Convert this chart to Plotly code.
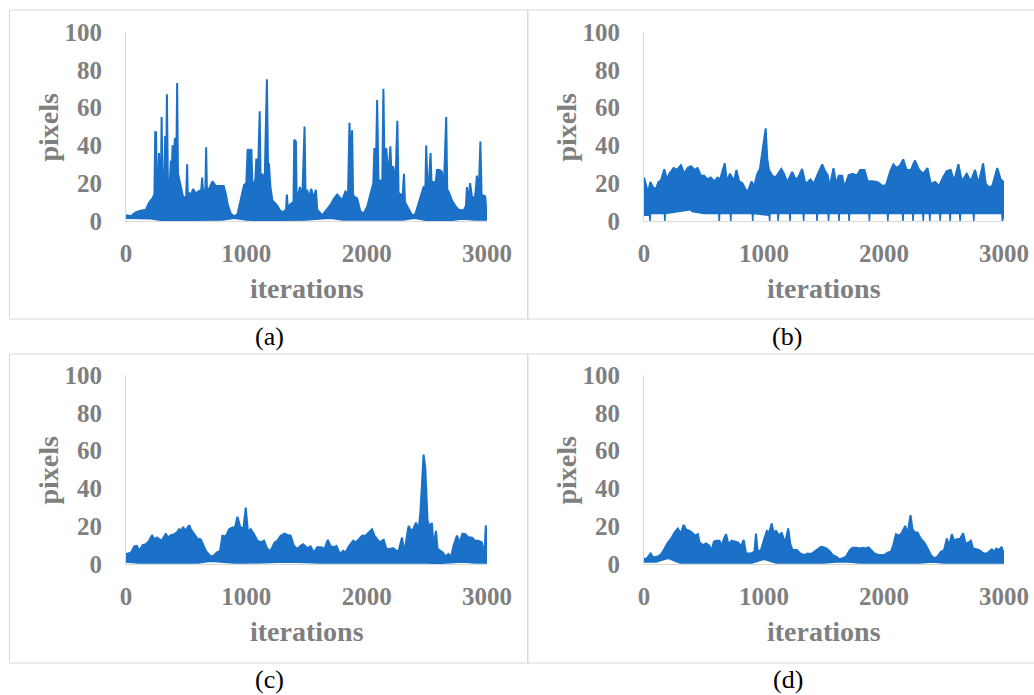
import plotly.graph_objects as go

W, H = 1034, 695
BLUE = "#1a71c7"
GRAY = "#7f7f7f"
AXIS = "#d9d9d9"

x_ticks = [0, 1000, 2000, 3000]
y_ticks = [0, 20, 40, 60, 80, 100]
x_title = "iterations"
y_title = "pixels"
panel_labels = ["(a)", "(b)", "(c)", "(d)"]

# ---------------- panel (a): upper envelope of the signal ----------------
a_it = [0, 40, 80, 120, 165, 190, 220, 236, 243, 250, 256, 266, 274, 282, 290, 296, 304, 318, 326, 333,
        340, 348, 365, 373, 380, 387, 400, 406, 418, 425, 432, 445, 456, 473, 500, 508, 514, 522, 540, 558,
        575, 589, 610, 625, 633, 640, 660, 666, 672, 690, 719, 746, 780, 812, 830, 848, 870, 898, 926, 953,
        981, 1000, 1011, 1025, 1042, 1050, 1064, 1075, 1083, 1095, 1111, 1118, 1133, 1152, 1171, 1180, 1188,
        1200, 1216, 1258, 1285, 1312, 1330, 1337, 1345, 1368, 1392, 1398, 1412, 1418, 1423, 1445, 1465, 1484,
        1492, 1506, 1520, 1539, 1560, 1578, 1589, 1631, 1658, 1699, 1730, 1755, 1796, 1824, 1845, 1857, 1868,
        1879, 1887, 1893, 1921, 1948, 1976, 2004, 2037, 2055, 2064, 2075, 2087, 2098, 2114, 2130, 2139, 2150,
        2164, 2178, 2197, 2208, 2219, 2240, 2255, 2265, 2280, 2300, 2310, 2318, 2335, 2377, 2404, 2425, 2446,
        2473, 2488, 2495, 2505, 2515, 2531, 2540, 2556, 2570, 2584, 2606, 2625, 2640, 2661, 2670, 2680, 2708,
        2736, 2763, 2805, 2825, 2833, 2845, 2860, 2874, 2900, 2916, 2930, 2945, 2955, 2985, 2995, 3000]
a_hi = [3, 2.5, 4.5, 5.5, 6, 9.5, 12, 14, 47, 47, 16, 18, 36, 18, 20, 55, 20, 22, 45, 20,
        67, 20, 22, 32, 25, 40, 35, 44, 30, 73, 25, 20, 18, 13, 12, 30, 12, 15, 14, 17,
        15, 15, 16, 16, 23, 16, 17, 39, 17, 17, 21, 18.5, 18.5, 18.5, 14, 8, 4, 2.5, 3.5, 11,
        19, 20, 38, 37, 38, 20, 20, 22, 33, 20, 58, 22, 25, 20, 75, 30, 30,
        18, 11, 8, 5, 5, 6, 14, 7, 9, 10, 43, 42, 12, 11, 18, 12, 50,
        14, 16.5, 12, 17, 12, 16.5, 6, 3, 5, 8.5, 12, 14, 11, 15.6, 14, 52, 30,
        48, 14, 13, 12, 5, 4, 7.6, 15.6, 20, 38.6, 22, 64, 22, 21, 22, 70, 22,
        38.6, 22, 39.5, 22, 29, 22, 53, 15, 14, 14, 25, 10, 8, 3, 3.5, 8, 13,
        18, 18, 40, 18, 18, 36, 18, 21, 18, 27, 27, 26, 15, 55, 15, 15.6, 11,
        8, 6, 5.5, 8, 18, 10, 20, 13, 12, 24, 12, 42, 14, 13, 5, 5]
lo_it = list(range(0, 3001, 100))
a_lo = [1.5, 1.5, 1.2, 0.3, 0.3, 0.3, 0.3, 0.3, 0.5, 1.5, 0.5, 0.3, 0.3, 0.5, 0.5, 0.5,
        1, 1.5, 0.5, 0.5, 0.3, 0.3, 0.3, 0.5, 1.5, 0.3, 0.3, 0.3, 1, 0.5, 0.5]

# ---------------- panel (b) ----------------
b_it = [0, 20, 33, 53, 75, 100, 120, 141, 169, 191, 211, 247, 275, 308, 336, 363, 391, 424, 446, 474,
        502, 529, 557, 585, 612, 634, 673, 690, 717, 750, 770, 792, 820, 861, 897, 916, 944, 966, 994, 1014,
        1027, 1041, 1069, 1096, 1144, 1166, 1194, 1235, 1263, 1285, 1318, 1346, 1387, 1415, 1443, 1485, 1504,
        1532, 1546, 1579, 1601, 1623, 1651, 1670, 1706, 1740, 1773, 1801, 1837, 1864, 1906, 1947, 1989, 2017,
        2053, 2078, 2105, 2135, 2160, 2188, 2224, 2257, 2293, 2326, 2362, 2390, 2426, 2459, 2492, 2523, 2556,
        2584, 2620, 2648, 2689, 2723, 2759, 2787, 2826, 2848, 2875, 2903, 2944, 2972, 3000]
b_hi = [23, 18.6, 15, 20.7, 17.8, 17, 20.5, 21.4, 27.4, 22, 25, 28, 27, 29.5, 25, 28, 29, 27, 28, 24,
        24, 22, 23, 21, 23, 22, 30.5, 21, 25, 21, 27, 21, 20, 15, 21, 17.8, 25, 27.5, 38.8, 49,
        33, 27, 24, 23, 27.5, 25, 20.5, 26, 22, 23, 27.5, 19.6, 22, 19.6, 24, 30, 27,
        24, 17.8, 28, 19.6, 24, 24, 17.8, 24.3, 25, 24, 27, 27, 21, 21, 20.5, 18.5, 19,
        26.4, 30, 28, 29.5, 32.6, 27, 27, 32, 27, 25, 28, 19.6, 20.7, 18.5, 23, 26.4, 27,
        21, 30, 21, 25, 21, 27, 19.6, 30.5, 19.6, 17.8, 18.6, 28, 22, 20.5]
b_lo_it = [0, 46, 50, 54, 170, 174, 178, 300, 388, 400, 500, 623, 627, 631, 719, 723, 727, 902, 906, 910,
           1043, 1047, 1051, 1114, 1118, 1122, 1213, 1217, 1221, 1326, 1330, 1334, 1438, 1442, 1446,
           1534, 1538, 1542, 1621, 1625, 1629, 1705, 1709, 1713, 1874, 1878, 1882, 2028, 2032, 2036,
           2154, 2158, 2162, 2238, 2242, 2246, 2323, 2327, 2331, 2378, 2382, 2386, 2464, 2468, 2472,
           2547, 2551, 2555, 2630, 2634, 2638, 2744, 2748, 2752, 2982, 2986, 3000]
b_lo = [3, 3, 0, 4, 4, 0, 4, 5, 6, 5, 4, 4, 0, 4, 4, 0, 4, 4, 0, 4,
        3, 0, 4, 4, 0, 4, 4, 0, 4, 4, 0, 4, 4, 0, 4,
        4, 0, 4, 4, 0, 4, 4, 0, 4, 4, 0, 4, 4, 0, 4,
        4, 0, 4, 4, 0, 4, 4, 0, 4, 4, 0, 4, 4, 0, 4,
        4, 0, 4, 4, 0, 4, 4, 0, 4, 4, 0, 3]

# ---------------- panel (c) ----------------
c_it = [0, 41, 69, 91, 110, 138, 166, 193, 216, 235, 257, 276, 296, 332, 346, 373, 401, 423, 442, 456,
        475, 492, 525, 539, 566, 594, 622, 644, 663, 685, 705, 727, 754, 782, 801, 829, 857, 884, 906, 926,
        948, 975, 995, 1014, 1036, 1064, 1092, 1119, 1147, 1174, 1202, 1235, 1258, 1285, 1318, 1340, 1368,
        1395, 1423, 1451, 1473, 1506, 1534, 1561, 1589, 1622, 1650, 1677, 1699, 1727, 1749, 1777, 1805, 1824,
        1851, 1888, 1907, 1934, 1962, 1990, 2017, 2045, 2064, 2087, 2108, 2141, 2164, 2191, 2219, 2247, 2266,
        2294, 2313, 2335, 2349, 2368, 2390, 2410, 2432, 2446, 2460, 2473, 2487, 2495, 2506, 2520, 2542, 2556,
        2576, 2589, 2611, 2634, 2653, 2680, 2700, 2722, 2750, 2772, 2796, 2819, 2846, 2874, 2902, 2929, 2957,
        2979, 2990, 3000]
c_hi = [5.3, 6, 9.3, 9.6, 7, 10, 10.5, 12.3, 15.3, 13, 14, 13, 12.3, 16.1, 14, 15.3, 15.8, 16.7, 18.4, 17.5,
        19.6, 17.5, 20.5, 18.4, 15.8, 13.3, 13, 9.6, 7, 5.3, 4, 4.4, 6, 7, 15, 14.6, 18.4, 19.3, 19.3, 25,
        19.8, 18.4, 29.8, 16.7, 18.4, 15.8, 12.3, 11.4, 12.3, 8, 7, 11.4, 12.3, 15, 16.1, 15.4, 15,
        9.6, 8, 9.6, 10.5, 8.4, 9.3, 6, 8.8, 8.8, 8, 12.8, 9.6, 8.8, 9.6, 5.3, 7, 6,
        9.3, 12.3, 11.4, 13, 15, 15, 16.7, 18.4, 15, 13, 11.4, 12.8, 8, 8, 8.4, 7, 7,
        14, 6, 15, 20.2, 17.5, 18.8, 21.9, 18.4, 26.8, 43, 57.9, 50.9, 37, 23, 20, 21.6, 9.6,
        17.5, 8, 7, 6, 4, 5.3, 3.5, 9.6, 15, 11.4, 16.1, 15.8, 14, 14, 12.3, 12.3, 11.4,
        5.3, 20.5, 5.3]
c_lo = [1, 0.5, 0.5, 0.5, 0.5, 0.5, 0.5, 1.5, 0.8, 0.5, 0.5, 0.5, 0.8, 1, 1, 0.8,
        0.5, 0.5, 0.8, 0.5, 0.5, 0.5, 0.5, 0.5, 0.5, 0.5, 0.3, 0.5, 1, 0.5, 0.5]

# ---------------- panel (d) ----------------
d_it = [0, 19, 55, 75, 116, 144, 172, 199, 227, 255, 283, 305, 330, 352, 380, 399, 427, 449, 463, 490,
        518, 546, 565, 582, 601, 629, 648, 665, 684, 704, 731, 759, 781, 809, 831, 850, 892, 920, 933, 947,
        975, 1003, 1024, 1044, 1064, 1080, 1100, 1128, 1147, 1169, 1183, 1202, 1219, 1238, 1274, 1302, 1335,
        1363, 1390, 1419, 1446, 1473, 1490, 1523, 1551, 1573, 1601, 1629, 1656, 1684, 1717, 1739, 1767, 1795,
        1823, 1851, 1872, 1892, 1920, 1961, 2003, 2030, 2058, 2077, 2100, 2127, 2150, 2177, 2196, 2221, 2238,
        2260, 2279, 2308, 2335, 2363, 2391, 2418, 2446, 2474, 2501, 2524, 2543, 2565, 2584, 2612, 2634, 2659,
        2682, 2704, 2724, 2742, 2765, 2792, 2820, 2848, 2875, 2898, 2917, 2936, 2958, 2981, 2994, 3000]
d_hi = [3, 2.6, 5.6, 3.5, 4, 5.3, 8.2, 11.4, 13.5, 16.7, 18.8, 15.8, 20.7, 18.1, 17.5, 16.7, 14.9, 15.8, 11.4, 10,
        10.9, 9.6, 7, 11.8, 12.3, 12.3, 9.6, 13.2, 15.8, 10.5, 12.3, 11.8, 11.4, 9.6, 12.8, 5.6, 5.6, 6.5, 16.1, 6.5,
        7.4, 13.5, 17.5, 16.7, 21.4, 16.7, 17.5, 14.9, 16.7, 12.3, 13.2, 18.8, 10.5, 7.4, 7.4, 5.6, 4.7,
        5.6, 5.3, 6.5, 7.7, 9, 9, 8.2, 6.5, 4.7, 3.9, 2.5, 3, 3.9, 7.4, 8.6, 8.6, 8.2,
        8.6, 8.2, 8.8, 7.4, 5.6, 4.7, 4.7, 6, 6.5, 10, 15.8, 14.9, 16.7, 20.2, 15.8, 25.8, 18.1,
        16.7, 16.7, 13.2, 11.4, 8.2, 4.7, 3, 3.9, 6.5, 7.4, 13.5, 9.6, 15.8, 12.3, 13.2, 13.2, 16.3,
        10.5, 11.4, 12.3, 8.2, 7.7, 7.4, 6, 5.3, 6.5, 7.7, 6.5, 8.2, 7.4, 9, 4.7, 7.4]
d_lo = [1, 1, 3, 0.5, 0.5, 0.5, 0.5, 0.5, 0.5, 0.5, 2.5, 0.5, 0.5, 0.5, 0.5, 0.5,
        1, 1, 0.5, 0.5, 0.5, 0.5, 0.5, 0.5, 1, 0.5, 0.5, 0.5, 0.5, 0.5, 0.5]

series = [
    (a_it, a_hi, lo_it, a_lo),
    (b_it, b_hi, b_lo_it, b_lo),
    (c_it, c_hi, lo_it, c_lo),
    (d_it, d_hi, lo_it, d_lo),
]

# layout geometry in screen pixels: (x of value 0, x of 3000, y of 0, y of 100)
geom = [
    (126, 487, 221, 32),
    (644, 1004, 221, 32),
    (126, 487, 564, 375),
    (644, 1004, 564, 375),
]
boxes = [(9.5, 10, 528, 319), (527.5, 10, 1040, 319), (9.5, 354, 528, 663), (527.5, 354, 1040, 663)]
label_pos = [(269, 336), (787, 336), (269, 679), (788, 679)]


def px(x):
    return x / W


def py(y):
    return 1 - y / H


fig = go.Figure()
layout = dict(
    width=W, height=H, margin=dict(l=0, r=0, t=0, b=0, pad=0, autoexpand=False),
    paper_bgcolor="white", plot_bgcolor="rgba(0,0,0,0)", showlegend=False,
)
tickfont = dict(family="Liberation Serif", size=25, color=GRAY, weight="bold")
titlefont = dict(family="Liberation Serif", size=28, color=GRAY, weight="bold")
annotations = []
shapes = []

for i, ((it, hi, lit, lo), (x0, x1, y0, y1)) in enumerate(zip(series, geom)):
    assert len(it) == len(hi) and len(lit) == len(lo)
    sfx = "" if i == 0 else str(i + 1)
    xa, ya = "x" + sfx, "y" + sfx
    fig.add_trace(go.Scatter(x=lit, y=lo, mode="lines", line=dict(color=BLUE, width=1.5),
                             xaxis=xa, yaxis=ya, hoverinfo="skip"))
    fig.add_trace(go.Scatter(x=it, y=hi, mode="lines", line=dict(color=BLUE, width=2),
                             fill="tonexty", fillcolor=BLUE, xaxis=xa, yaxis=ya))
    layout["xaxis" + sfx] = dict(
        domain=[px(x0), px(x1)], range=[0, 3000], anchor=ya, tickvals=x_ticks,
        showgrid=False, zeroline=False, showline=True, linecolor=AXIS, linewidth=1,
        ticks="", ticklabelstandoff=10, tickfont=tickfont, automargin=False,
    )
    layout["yaxis" + sfx] = dict(
        domain=[py(y0), py(y1)], range=[0, 100], anchor=xa, tickvals=y_ticks,
        showgrid=False, zeroline=False, showline=True, linecolor=AXIS, linewidth=1,
        ticks="", ticklabelstandoff=18, tickfont=tickfont, automargin=False,
    )
    cx = (x0 + x1) / 2
    annotations.append(dict(text=y_title, x=px(x0 - 78), y=py((y0 + y1) / 2 + 1), xref="paper", yref="paper",
                            textangle=-90, showarrow=False, xanchor="center", yanchor="middle",
                            font=titlefont))
    annotations.append(dict(text=x_title, x=px(cx), y=py(y0 + 67), xref="paper", yref="paper",
                            showarrow=False, xanchor="center", yanchor="middle", font=titlefont))
    bx0, by0, bx1, by1 = boxes[i]
    shapes.append(dict(type="rect", xref="paper", yref="paper", x0=px(bx0), x1=px(bx1), y0=py(by0), y1=py(by1),
                       line=dict(color=AXIS, width=1)))
    lx, ly = label_pos[i]
    annotations.append(dict(text=panel_labels[i], x=px(lx), y=py(ly), xref="paper", yref="paper",
                            showarrow=False, xanchor="center", yanchor="middle",
                            font=dict(family="Liberation Serif", size=26, color="black")))

layout["annotations"] = annotations
layout["shapes"] = shapes
fig.update_layout(**layout)
fig.write_html(
    "out.html",
    config={"displayModeBar": False},
    post_script="document.body.style.margin='0';document.body.style.overflow='hidden';",
)
